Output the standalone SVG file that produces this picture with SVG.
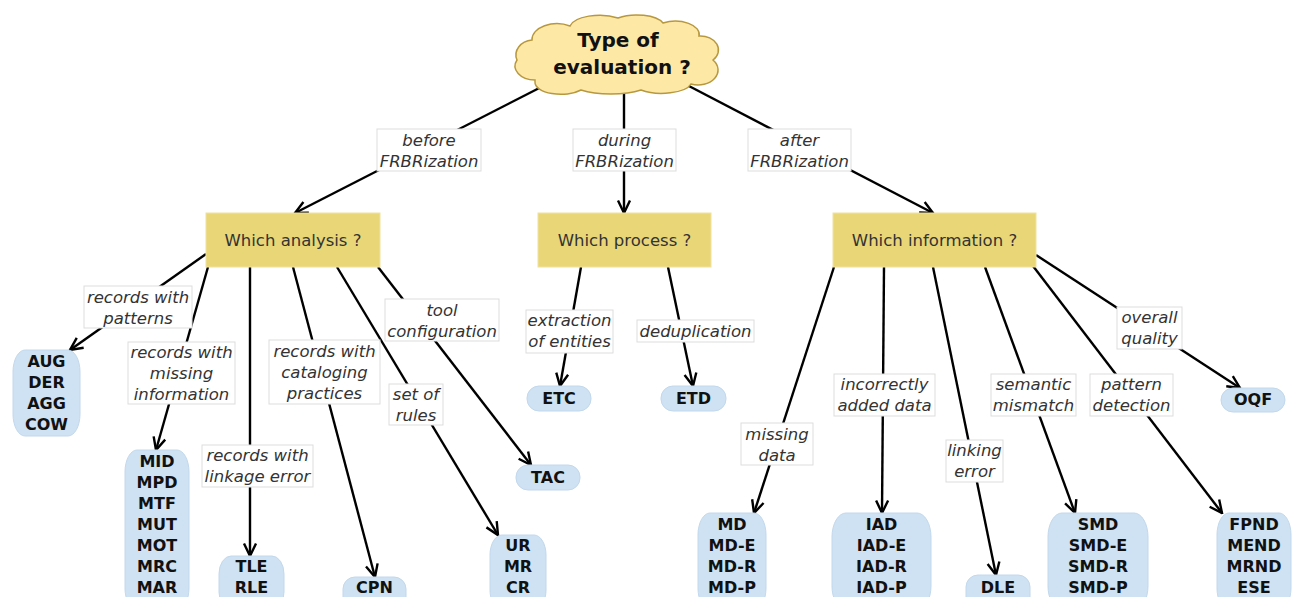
<svg xmlns="http://www.w3.org/2000/svg" width="1292" height="597" viewBox="0 0 1292 597">
<style>
.e{stroke:#000;stroke-width:2.4;fill:none}
.ea{stroke:#000;stroke-width:2.4;fill:none;marker-end:url(#arr)}
.lb{fill:#fff;stroke:#ddd;stroke-width:1}
.lt{font-family:"DejaVu Sans",sans-serif;font-style:italic;font-size:16.5px;fill:#333;text-anchor:middle}
.q{fill:#e9d677;stroke:#efe2a0;stroke-width:1}
.qt{font-family:"DejaVu Sans",sans-serif;font-size:16.5px;fill:#333;text-anchor:middle}
.b{fill:#cfe2f3;stroke:#c2d8ec;stroke-width:1}
.bt{font-family:"DejaVu Sans",sans-serif;font-weight:bold;font-size:16px;fill:#111;text-anchor:middle}
.ct{font-family:"DejaVu Sans",sans-serif;font-weight:bold;font-size:20px;fill:#111;text-anchor:middle}
</style>
<defs>
<marker id="arr" viewBox="0 0 16 16" refX="14.5" refY="8" markerWidth="16" markerHeight="16" markerUnits="userSpaceOnUse" orient="auto">
<path d="M2,2 L14.5,8 L2,14" fill="none" stroke="#000" stroke-width="2.4"/>
</marker>
</defs>
<rect width="1292" height="597" fill="#fff"/>

<g id="connectors">
<line class="ea" x1="553" y1="81" x2="295" y2="213"/>
<line class="ea" x1="624" y1="90" x2="624" y2="213"/>
<line class="ea" x1="687" y1="85" x2="933" y2="213"/>
<line class="ea" x1="206" y1="254" x2="70" y2="350"/>
<line class="ea" x1="208" y1="267" x2="156" y2="450"/>
<line class="ea" x1="250" y1="267" x2="250" y2="556"/>
<line class="ea" x1="293" y1="267" x2="375" y2="577"/>
<line class="ea" x1="337" y1="267" x2="498" y2="535"/>
<line class="ea" x1="378" y1="267" x2="531" y2="465"/>
<line class="ea" x1="581" y1="267" x2="560" y2="386"/>
<line class="ea" x1="668" y1="267" x2="693" y2="386"/>
<line class="ea" x1="834" y1="267" x2="754" y2="513"/>
<line class="ea" x1="884" y1="267" x2="882" y2="513"/>
<line class="ea" x1="933" y1="267" x2="996" y2="575"/>
<line class="ea" x1="985" y1="267" x2="1075" y2="513"/>
<line class="ea" x1="1033" y1="266" x2="1222" y2="513"/>
<line class="ea" x1="1036" y1="255" x2="1240" y2="388"/>
</g>

<g id="n-root">
<path d="M535 80 a20 14 0 0 1 -18 -20 a18 15 0 0 1 15 -20 a25 16 0 0 1 38 -14 a30 13 0 0 1 48 -8 a28 12 0 0 1 45 5 a24 13 0 0 1 36 13 a18 14 0 0 1 14 24 a20 15 0 0 1 -22 24 a30 12 0 0 1 -50 6 a40 12 0 0 1 -60 0 a26 12 0 0 1 -46 -8 Z" fill="#fde8a6" stroke="#b8983e" stroke-width="1.5"/>
<text class="ct" x="618" y="47">Type of</text>
<text class="ct" x="622" y="74">evaluation ?</text>
</g>

<g id="n-analysis"><rect class="q" x="206" y="213" width="174" height="54"/><text class="qt" x="293" y="246">Which analysis ?</text></g>
<g id="n-process"><rect class="q" x="538" y="213" width="173" height="54"/><text class="qt" x="624.5" y="246">Which process ?</text></g>
<g id="n-information"><rect class="q" x="833" y="213" width="203" height="54"/><text class="qt" x="934.5" y="246">Which information ?</text></g>

<g id="n-aug"><rect class="b" x="13" y="350" width="67" height="86" rx="12" ry="22"/>
<text class="bt" x="46.5" y="367">AUG</text><text class="bt" x="46.5" y="388">DER</text><text class="bt" x="46.5" y="409">AGG</text><text class="bt" x="46.5" y="430">COW</text></g>
<g id="n-mid"><rect class="b" x="125" y="450" width="64" height="160" rx="12" ry="22"/>
<text class="bt" x="157" y="467">MID</text><text class="bt" x="157" y="488">MPD</text><text class="bt" x="157" y="509">MTF</text><text class="bt" x="157" y="530">MUT</text><text class="bt" x="157" y="551">MOT</text><text class="bt" x="157" y="572">MRC</text><text class="bt" x="157" y="593">MAR</text></g>
<g id="n-tle"><rect class="b" x="219" y="556" width="65" height="54" rx="12" ry="18"/>
<text class="bt" x="251.5" y="572">TLE</text><text class="bt" x="251.5" y="593">RLE</text></g>
<g id="n-cpn"><rect class="b" x="343" y="577" width="63" height="34" rx="12" ry="12"/>
<text class="bt" x="374.5" y="593">CPN</text></g>
<g id="n-ur"><rect class="b" x="490" y="535" width="56" height="75" rx="12" ry="20"/>
<text class="bt" x="518" y="551">UR</text><text class="bt" x="518" y="572">MR</text><text class="bt" x="518" y="593">CR</text></g>
<g id="n-tac"><rect class="b" x="516" y="465" width="64" height="25" rx="12" ry="12"/>
<text class="bt" x="548" y="483">TAC</text></g>
<g id="n-etc"><rect class="b" x="527" y="386" width="64" height="25" rx="12" ry="12"/>
<text class="bt" x="559" y="404">ETC</text></g>
<g id="n-etd"><rect class="b" x="661" y="386" width="65" height="25" rx="12" ry="12"/>
<text class="bt" x="693.5" y="404">ETD</text></g>
<g id="n-oqf"><rect class="b" x="1221" y="388" width="64" height="24" rx="12" ry="12"/>
<text class="bt" x="1253" y="405">OQF</text></g>
<g id="n-md"><rect class="b" x="698" y="513" width="68" height="97" rx="12" ry="22"/>
<text class="bt" x="732" y="530">MD</text><text class="bt" x="732" y="551">MD-E</text><text class="bt" x="732" y="572">MD-R</text><text class="bt" x="732" y="593">MD-P</text></g>
<g id="n-iad"><rect class="b" x="832" y="513" width="99" height="97" rx="14" ry="24"/>
<text class="bt" x="881.5" y="530">IAD</text><text class="bt" x="881.5" y="551">IAD-E</text><text class="bt" x="881.5" y="572">IAD-R</text><text class="bt" x="881.5" y="593">IAD-P</text></g>
<g id="n-dle"><rect class="b" x="966" y="575" width="64" height="35" rx="12" ry="12"/>
<text class="bt" x="998" y="593">DLE</text></g>
<g id="n-smd"><rect class="b" x="1048" y="513" width="100" height="97" rx="14" ry="24"/>
<text class="bt" x="1098" y="530">SMD</text><text class="bt" x="1098" y="551">SMD-E</text><text class="bt" x="1098" y="572">SMD-R</text><text class="bt" x="1098" y="593">SMD-P</text></g>
<g id="n-fpnd"><rect class="b" x="1217" y="513" width="74" height="97" rx="12" ry="22"/>
<text class="bt" x="1254" y="530">FPND</text><text class="bt" x="1254" y="551">MEND</text><text class="bt" x="1254" y="572">MRND</text><text class="bt" x="1254" y="593">ESE</text></g>

<g id="edge-labels">
<rect class="lb" x="377" y="129" width="104" height="42"/><text class="lt" x="429" y="146">before</text><text class="lt" x="429" y="167">FRBRization</text>
<rect class="lb" x="573" y="129" width="103" height="42"/><text class="lt" x="624.5" y="146">during</text><text class="lt" x="624.5" y="167">FRBRization</text>
<rect class="lb" x="748" y="129" width="103" height="42"/><text class="lt" x="799.5" y="146">after</text><text class="lt" x="799.5" y="167">FRBRization</text>
<rect class="lb" x="84" y="286" width="108" height="42"/><text class="lt" x="138" y="303">records with</text><text class="lt" x="138" y="324">patterns</text>
<rect class="lb" x="128" y="342" width="107" height="62"/><text class="lt" x="181.5" y="358">records with</text><text class="lt" x="181.5" y="379">missing</text><text class="lt" x="181.5" y="400">information</text>
<rect class="lb" x="202" y="445" width="111" height="42"/><text class="lt" x="257.5" y="461">records with</text><text class="lt" x="257.5" y="482">linkage error</text>
<rect class="lb" x="269" y="340" width="111" height="64"/><text class="lt" x="324.5" y="357">records with</text><text class="lt" x="324.5" y="378">cataloging</text><text class="lt" x="324.5" y="399">practices</text>
<rect class="lb" x="389" y="384" width="54" height="41"/><text class="lt" x="416" y="400">set of</text><text class="lt" x="416" y="421">rules</text>
<rect class="lb" x="385" y="299" width="114" height="42"/><text class="lt" x="442" y="316">tool</text><text class="lt" x="442" y="337">configuration</text>
<rect class="lb" x="526" y="310" width="87" height="43"/><text class="lt" x="569.5" y="326">extraction</text><text class="lt" x="569.5" y="347">of entities</text>
<rect class="lb" x="637" y="320" width="117" height="22"/><text class="lt" x="695.5" y="337">deduplication</text>
<rect class="lb" x="741" y="423" width="72" height="42"/><text class="lt" x="777" y="440">missing</text><text class="lt" x="777" y="461">data</text>
<rect class="lb" x="834" y="374" width="101" height="42"/><text class="lt" x="884.5" y="390">incorrectly</text><text class="lt" x="884.5" y="411">added data</text>
<rect class="lb" x="946" y="440" width="57" height="42"/><text class="lt" x="974.5" y="456">linking</text><text class="lt" x="974.5" y="477">error</text>
<rect class="lb" x="991" y="374" width="85" height="42"/><text class="lt" x="1033.5" y="390">semantic</text><text class="lt" x="1033.5" y="411">mismatch</text>
<rect class="lb" x="1090" y="374" width="83" height="42"/><text class="lt" x="1131.5" y="390">pattern</text><text class="lt" x="1131.5" y="411">detection</text>
<rect class="lb" x="1117" y="307" width="65" height="42"/><text class="lt" x="1149.5" y="323">overall</text><text class="lt" x="1149.5" y="344">quality</text>
</g>
</svg>
